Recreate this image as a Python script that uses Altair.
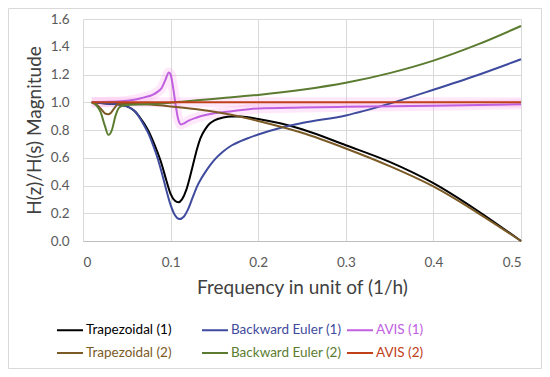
import altair as alt
import pandas as pd

# ---- data ----
names = ["Trapezoidal (1)", "Backward Euler (1)", "AVIS (1)",
         "Trapezoidal (2)", "Backward Euler (2)", "AVIS (2)"]
colors = ["#000000", "#3F4B9E", "#C060E0", "#7B5A26", "#5B7C30", "#C0401A"]
# legend fills column by column: order so rows read T(1) BE(1) AVIS(1) / T(2) BE(2) AVIS(2)
legend_order = [0, 3, 1, 4, 2, 5]

trap1_f = [0.01, 0.02, 0.03, 0.04, 0.05, 0.055, 0.06, 0.065, 0.07, 0.075, 0.08, 0.085,
           0.09, 0.095, 0.1, 0.105, 0.109, 0.113, 0.118, 0.122, 0.126, 0.13, 0.134,
           0.14, 0.145, 0.15, 0.16, 0.17, 0.18, 0.2, 0.225, 0.25, 0.3, 0.35, 0.4, 0.45, 0.5]
trap1_v = [1.0, 0.995, 0.99, 0.985, 0.97, 0.955, 0.93, 0.89, 0.845, 0.79, 0.72, 0.64,
           0.55, 0.44, 0.34, 0.29, 0.279, 0.30, 0.37, 0.46, 0.56, 0.66, 0.74,
           0.81, 0.848, 0.87, 0.89, 0.897, 0.897, 0.88, 0.848, 0.805, 0.69, 0.57, 0.417, 0.22, 0.0]

be1_f = [0.01, 0.02, 0.03, 0.04, 0.05, 0.055, 0.06, 0.065, 0.07, 0.075, 0.08, 0.085,
         0.09, 0.095, 0.1, 0.105, 0.11, 0.115, 0.12, 0.125, 0.13, 0.135, 0.14, 0.145,
         0.15, 0.16, 0.17, 0.18, 0.19, 0.2, 0.225, 0.25, 0.3, 0.35, 0.4, 0.45, 0.5]
be1_v = [1.0, 0.995, 0.99, 0.985, 0.97, 0.955, 0.93, 0.885, 0.83, 0.77, 0.69, 0.60,
         0.49, 0.37, 0.26, 0.185, 0.158, 0.175, 0.23, 0.31, 0.39, 0.45, 0.50, 0.545,
         0.585, 0.645, 0.69, 0.72, 0.745, 0.768, 0.815, 0.85, 0.905, 0.99, 1.09, 1.195, 1.31]

avis1_f = [0.01, 0.03, 0.05, 0.06, 0.07, 0.08, 0.085, 0.09, 0.094, 0.098, 0.1, 0.103,
           0.106, 0.109, 0.112, 0.116, 0.12, 0.13, 0.15, 0.17, 0.2, 0.25, 0.3, 0.4, 0.5]
avis1_v = [1.0, 1.003, 1.01, 1.02, 1.035, 1.055, 1.075, 1.105, 1.16, 1.215, 1.2, 1.1,
           0.97, 0.87, 0.84, 0.85, 0.865, 0.89, 0.92, 0.935, 0.955, 0.962, 0.967, 0.975, 0.985]

trap2_f = [0.01, 0.015, 0.02, 0.025, 0.0285, 0.032, 0.036, 0.04, 0.05, 0.07, 0.1, 0.13,
           0.16, 0.18, 0.2, 0.25, 0.3, 0.35, 0.4, 0.45, 0.5]
trap2_v = [1.0, 0.985, 0.955, 0.92, 0.913, 0.925, 0.96, 0.985, 0.99, 0.985, 0.97, 0.95,
           0.92, 0.895, 0.865, 0.78, 0.667, 0.54, 0.393, 0.205, 0.0]

be2_f = [0.01, 0.015, 0.02, 0.025, 0.029, 0.033, 0.037, 0.041, 0.045, 0.05, 0.07, 0.1,
         0.13, 0.16, 0.2, 0.25, 0.3, 0.35, 0.4, 0.45, 0.5]
be2_v = [1.0, 0.98, 0.93, 0.83, 0.765, 0.80, 0.90, 0.96, 0.975, 0.98, 0.985, 0.997,
         1.014, 1.03, 1.053, 1.09, 1.14, 1.21, 1.30, 1.415, 1.55]

avis2_f = [0.01, 0.1, 0.2, 0.3, 0.4, 0.5]
avis2_v = [1.0, 1.0, 1.0, 1.0, 1.0, 1.0]

x_ticks = [0, 0.1, 0.2, 0.3, 0.4, 0.5]
y_ticks = [0, 0.2, 0.4, 0.6, 0.8, 1.0, 1.2, 1.4, 1.6]

series = [(names[0], trap1_f, trap1_v), (names[1], be1_f, be1_v), (names[2], avis1_f, avis1_v),
          (names[3], trap2_f, trap2_v), (names[4], be2_f, be2_v), (names[5], avis2_f, avis2_v)]
rows = []
for k, (n, fs, vs) in enumerate(series):
    for f, v in zip(fs, vs):
        rows.append({"series": n, "f": f, "v": v, "k": k})
df = pd.DataFrame(rows)
df_avis = df[df["series"].isin(["AVIS (1)", "AVIS (2)"])]

dom = [names[i] for i in legend_order]
rng = [colors[i] for i in legend_order]

FONT = "Lato"
W, H = 438, 222
PAD = {"left": 75, "top": 11, "right": 21, "bottom": 128}

xenc = alt.X("f:Q", scale=alt.Scale(domain=[0, 0.5], nice=False),
             axis=alt.Axis(values=x_ticks, format=".1~f", title="Frequency in unit of (1/h)",
                           titleFont=FONT, titleFontSize=19, titleFontWeight="normal",
                           titleColor="#404040", titleY=46, titleBaseline="middle",
                           labelFont=FONT, labelFontSize=13.5, labelColor="#595959",
                           labelPadding=14, tickSize=0, domainColor="#BFBFBF",
                           gridColor="#D9D9D9"))
yenc = alt.Y("v:Q", scale=alt.Scale(domain=[0, 1.6], nice=False),
             axis=alt.Axis(values=y_ticks, format=".1f", title="H(z)/H(s) Magnitude",
                           titleFont=FONT, titleFontSize=19, titleFontWeight="normal",
                           titleColor="#404040", titleX=-49, titleY=111,
                           titleAlign="center", titleBaseline="middle", titleAngle=270,
                           labelFont=FONT, labelFontSize=13.5, labelColor="#595959",
                           labelPadding=14, tickSize=0, domain=False,
                           gridColor="#D9D9D9"))

frame = alt.Chart(pd.DataFrame({"a": [0]})).mark_rect(
    fill="transparent", stroke="#D9D9D9", strokeWidth=1
).encode(x=alt.value(-74.5), x2=alt.value(W + 20.5), y=alt.value(-10.5), y2=alt.value(H + 127.5))

glow = alt.Chart(df_avis).mark_line(strokeWidth=10, opacity=0.18, color="#FF7FE0",
                                    interpolate="monotone").encode(
    x=xenc, y=yenc, detail="series:N")

lines = alt.Chart(df).mark_line(strokeWidth=2, interpolate="monotone").encode(
    x=xenc, y=yenc,
    color=alt.Color("series:N", title=None,
                    scale=alt.Scale(domain=dom, range=rng),
                    legend=alt.Legend(orient="none", legendX=-27, legendY=297, columns=3,
                                      symbolType="stroke", symbolSize=676,
                                      symbolStrokeWidth=2, labelFont=FONT, labelFontSize=13.5,
                                      labelOffset=2, columnPadding=1, rowPadding=2,
                                      gridAlign="all", labelLimit=300,
                                      labelColor=alt.ExprRef("scale('color', datum.value)"))),
    detail="k:N",
)

chart = alt.layer(frame, glow, lines).properties(
    width=W, height=H, padding=PAD, autosize=alt.AutoSizeParams(type="none"),
    background="white"
).configure_view(strokeOpacity=0).configure_axis(gridWidth=1)

chart.save("out.html", embed_options={"renderer": "svg", "actions": False})
